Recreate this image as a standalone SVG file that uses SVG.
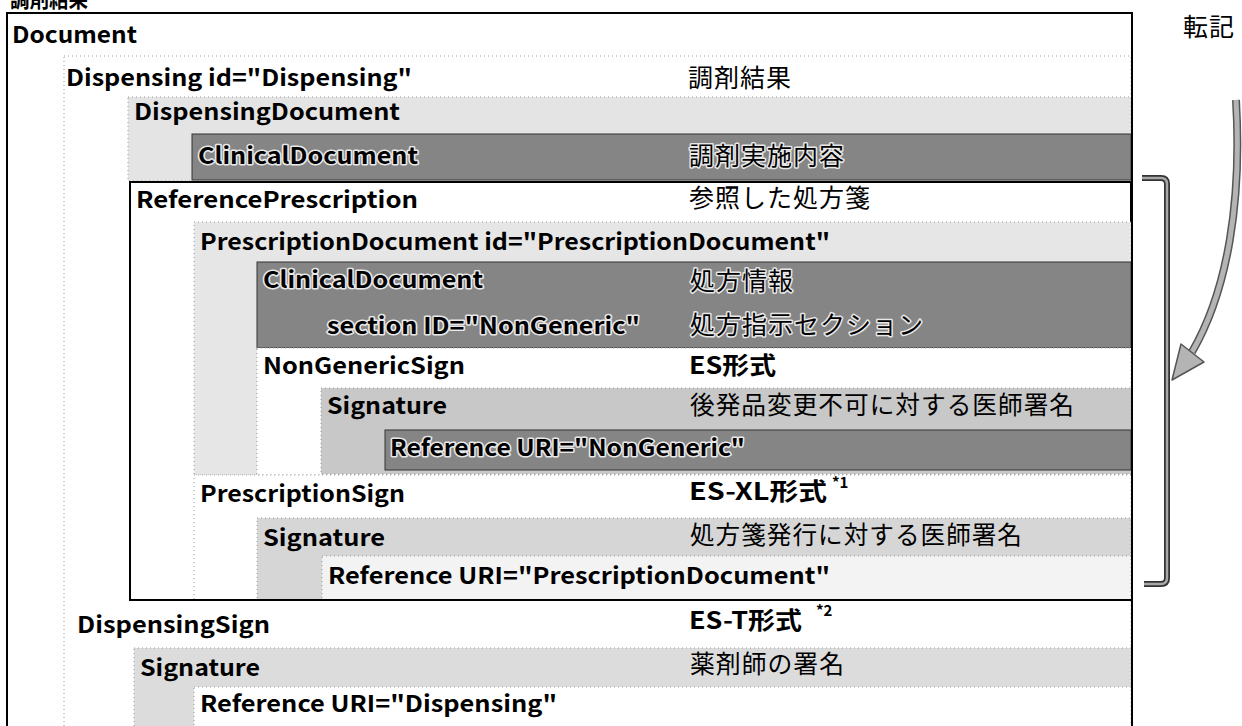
<svg xmlns="http://www.w3.org/2000/svg" width="1242" height="726" viewBox="0 0 1242 726">
<style>
  .en{font-family:"Noto Sans CJK JP","Liberation Sans",sans-serif;font-weight:700;font-size:23px;fill:#000}
  .ja{font-family:"Noto Sans CJK JP",sans-serif;font-weight:400;font-size:25px;letter-spacing:1px;fill:#000}
  .jb{font-family:"Noto Sans CJK JP",sans-serif;font-weight:700;font-size:24px;fill:#000}
  .sup{font-family:"Noto Sans CJK JP","Liberation Sans",sans-serif;font-weight:700;font-size:15px;fill:#000}
  .halo{stroke:#e8e8e8;stroke-width:3px;paint-order:stroke;stroke-linejoin:round}
  .dot{stroke:#9a9a9a;stroke-width:1;stroke-dasharray:1 3}
  .dark{fill:#858585;stroke:#333;stroke-width:1}
  .solid{fill:#fff;stroke:#000;stroke-width:2}
</style>
<rect width="1242" height="726" fill="#fff"/>
<text class="jb" x="10" y="7" textLength="78" lengthAdjust="spacingAndGlyphs">調剤結果</text>

<g id="document">
  <rect x="7" y="13" width="1125" height="730" class="solid"/>
  <text class="en" x="12" y="43" textLength="125" lengthAdjust="spacingAndGlyphs">Document</text>
</g>
<g id="dispensing">
  <rect x="64" y="56" width="1067" height="690" fill="#fff" class="dot"/>
  <text class="en" x="66" y="86" textLength="346" lengthAdjust="spacingAndGlyphs">Dispensing id="Dispensing"</text>
  <text class="ja" x="688" y="87">調剤結果</text>
</g>
<g id="dispensingDocument">
  <rect x="128" y="97" width="1003" height="84" fill="#e4e4e4" class="dot"/>
  <text class="en" x="134" y="120" textLength="266" lengthAdjust="spacingAndGlyphs">DispensingDocument</text>
</g>
<g id="clinicalDocument1">
  <rect x="192" y="134" width="939" height="46" class="dark"/>
  <text class="en halo" x="198" y="164" textLength="220" lengthAdjust="spacingAndGlyphs">ClinicalDocument</text>
  <text class="ja halo" x="689" y="165">調剤実施内容</text>
</g>
<g id="referencePrescription">
  <rect x="130" y="182" width="1001" height="418" class="solid"/>
  <text class="en" x="136" y="208" textLength="282" lengthAdjust="spacingAndGlyphs">ReferencePrescription</text>
  <text class="ja" x="689" y="207">参照した処方箋</text>
</g>
<g id="prescriptionDocument">
  <rect x="194" y="222" width="937" height="253" fill="#e6e6e6" class="dot"/>
  <text class="en" x="200" y="250" textLength="630" lengthAdjust="spacingAndGlyphs">PrescriptionDocument id="PrescriptionDocument"</text>
</g>
<g id="clinicalDocument2">
  <rect x="257" y="262" width="874" height="86" class="dark"/>
  <text class="en halo" x="263" y="288" textLength="220" lengthAdjust="spacingAndGlyphs">ClinicalDocument</text>
  <text class="ja halo" x="690" y="290">処方情報</text>
</g>
<g id="section">
  <text class="en halo" x="327" y="334" textLength="313" lengthAdjust="spacingAndGlyphs">section ID="NonGeneric"</text>
  <text class="ja halo" x="690" y="334">処方指示セクション</text>
</g>
<g id="nonGenericSign">
  <rect x="257" y="348" width="874" height="127" fill="#fff" class="dot"/>
  <text class="en" x="263" y="374" textLength="202" lengthAdjust="spacingAndGlyphs">NonGenericSign</text>
  <text class="jb" x="689" y="374" textLength="87" lengthAdjust="spacingAndGlyphs">ES形式</text>
</g>
<g id="signature1">
  <rect x="321" y="388" width="810" height="86" fill="#c8c8c8" class="dot"/>
  <text class="en" x="327" y="414" textLength="120" lengthAdjust="spacingAndGlyphs">Signature</text>
  <text class="ja" x="690" y="414" textLength="385" lengthAdjust="spacingAndGlyphs">後発品変更不可に対する医師署名</text>
</g>
<g id="referenceNonGeneric">
  <rect x="385" y="430" width="746" height="40" class="dark"/>
  <text class="en halo" x="390" y="456" textLength="355" lengthAdjust="spacingAndGlyphs">Reference URI="NonGeneric"</text>
</g>
<g id="prescriptionSign">
  <rect x="194" y="475" width="937" height="125" fill="#fff" class="dot"/>
  <text class="en" x="200" y="502" textLength="205" lengthAdjust="spacingAndGlyphs">PrescriptionSign</text>
  <text class="jb" x="689" y="500" textLength="138" lengthAdjust="spacingAndGlyphs">ES-XL形式</text>
  <text class="sup" x="832" y="488">*1</text>
</g>
<g id="signature2">
  <rect x="257" y="518" width="874" height="82" fill="#d6d6d6" class="dot"/>
  <text class="en" x="263" y="546" textLength="122" lengthAdjust="spacingAndGlyphs">Signature</text>
  <text class="ja" x="690" y="544" textLength="333" lengthAdjust="spacingAndGlyphs">処方箋発行に対する医師署名</text>
</g>
<g id="referencePrescriptionDocument">
  <rect x="322" y="556" width="809" height="44" fill="#f3f3f3" class="dot"/>
  <text class="en" x="328" y="584" textLength="502" lengthAdjust="spacingAndGlyphs">Reference URI="PrescriptionDocument"</text>
</g>
<line x1="130" y1="600" x2="1131" y2="600" stroke="#000" stroke-width="2"/>
<g id="dispensingSign">
  <text class="en" x="77" y="633" textLength="193" lengthAdjust="spacingAndGlyphs">DispensingSign</text>
  <text class="jb" x="689" y="629" textLength="113" lengthAdjust="spacingAndGlyphs">ES-T形式</text>
  <text class="sup" x="816" y="616">*2</text>
</g>
<g id="signature3">
  <rect x="134" y="648" width="997" height="90" fill="#dcdcdc" class="dot"/>
  <text class="en" x="140" y="676" textLength="120" lengthAdjust="spacingAndGlyphs">Signature</text>
  <text class="ja" x="690" y="673" textLength="155" lengthAdjust="spacingAndGlyphs">薬剤師の署名</text>
</g>
<g id="referenceDispensing">
  <rect x="194" y="687" width="937" height="50" fill="#fff" class="dot"/>
  <text class="en" x="200" y="712" textLength="357" lengthAdjust="spacingAndGlyphs">Reference URI="Dispensing"</text>
</g>
<line x1="1132" y1="13" x2="1132" y2="726" stroke="#000" stroke-width="2"/>

<g id="transcription">
  <text class="ja" x="1183" y="36" textLength="52" lengthAdjust="spacingAndGlyphs">転記</text>
</g>
<g id="connectors">
  <path d="M1142,178 H1161 Q1167,178 1167,184 V578 Q1167,584 1161,584 H1144" fill="none" stroke="#333" stroke-width="6"/>
  <path d="M1142,178 H1161 Q1167,178 1167,184 V578 Q1167,584 1161,584 H1144" fill="none" stroke="#a8a8a8" stroke-width="2.5"/>
  <path d="M1236,100 C1242,200 1228,290 1192,352" fill="none" stroke="#555" stroke-width="8"/>
  <path d="M1236,100 C1242,200 1228,290 1192,352" fill="none" stroke="#b4b4b4" stroke-width="5"/>
  <polygon points="1172,380 1181,344 1204,362" fill="#b4b4b4" stroke="#555" stroke-width="1.5" stroke-linejoin="round"/>
</g>
</svg>
